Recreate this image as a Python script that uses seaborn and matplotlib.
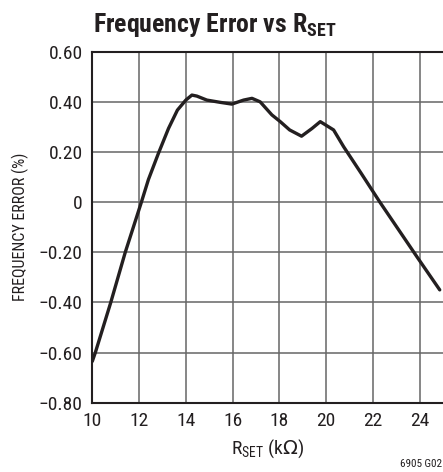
import numpy as np
import pandas as pd
import matplotlib
matplotlib.use("Agg")
import matplotlib.pyplot as plt
from matplotlib import font_manager
import seaborn as sns

# data
r_set = [10.0, 10.13, 10.79, 11.41, 12.1, 12.4, 12.83, 13.26, 13.64, 14.0,
         14.26, 14.47, 14.9, 15.47, 15.97, 16.47, 16.83, 17.18, 17.68, 18.04,
         18.44, 18.95, 19.4, 19.75, 20.32, 20.75, 21.5, 22.3, 23.1, 23.9, 24.86]
freq_err = [-0.635, -0.6, -0.4, -0.2, 0.0, 0.09, 0.195, 0.294, 0.367, 0.407,
            0.427, 0.423, 0.407, 0.398, 0.391, 0.407, 0.414, 0.40, 0.348, 0.321,
            0.288, 0.263, 0.294, 0.321, 0.288, 0.221, 0.115, 0.0, -0.11, -0.22, -0.35]

x_ticks = [10, 12, 14, 16, 18, 20, 22, 24]
y_ticks = [0.6, 0.4, 0.2, 0.0, -0.2, -0.4, -0.6, -0.8]
y_tick_labels = ["0.60", "0.40", "0.20", "0", "\u22120.20", "\u22120.40", "\u22120.60", "\u22120.80"]

df = pd.DataFrame({"rset": r_set, "err": freq_err})

# pick a narrow sans that is installed, preferring one that also has a bold face
candidates = ["Liberation Sans Narrow", "Roboto Condensed", "Archivo Narrow",
              "PT Sans Narrow", "IBM Plex Sans Condensed", "Fira Sans Condensed",
              "Asap Condensed", "Encode Sans Condensed", "Open Sans Condensed",
              "Barlow Semi Condensed", "Pragati Narrow"]


def weights(name):
    out = []
    for f in font_manager.fontManager.ttflist:
        if f.name == name:
            w = f.weight
            if isinstance(w, str):
                w = font_manager.weight_dict.get(w, 400)
            out.append(w)
    return out


narrow = None
narrow_bold = None
for cand in candidates:
    ws = weights(cand)
    if not ws:
        continue
    if narrow is None:
        narrow = cand
    if narrow_bold is None and any(w >= 600 for w in ws) and any(w < 600 for w in ws):
        narrow_bold = cand
if narrow_bold is not None:
    narrow = narrow_bold
if narrow is None:
    narrow = "Liberation Sans"
title_font = narrow_bold if narrow_bold else narrow

sns.set_theme(style="white")
plt.rcParams["font.family"] = [narrow, "DejaVu Sans"]
plt.rcParams["axes.unicode_minus"] = True
plt.rcParams["mathtext.fontset"] = "custom"
plt.rcParams["mathtext.rm"] = narrow
plt.rcParams["mathtext.bf"] = title_font + ":bold"
plt.rcParams["mathtext.sf"] = "DejaVu Sans"

ink = "#231f20"

fig = plt.figure(figsize=(4.43, 4.72), dpi=100)
ax = fig.add_axes([92.3 / 443, 69.3 / 472, (443 - 92.3) / 443, 351 / 472])

sns.lineplot(data=df, x="rset", y="err", ax=ax, color=ink, linewidth=2.4,
             estimator=None, sort=False, solid_joinstyle="round", solid_capstyle="round",
             zorder=5)

ax.set_xlim(10, 25)
ax.set_ylim(-0.8, 0.6)
ax.set_xticks(x_ticks)
ax.set_yticks(y_ticks)
ax.set_yticklabels(y_tick_labels)
ax.grid(True, color="#666666", linewidth=1.1)
ax.tick_params(length=0, labelsize=14, pad=7, colors=ink)

for side in ["left", "bottom", "top"]:
    ax.spines[side].set_color(ink)
    ax.spines[side].set_linewidth(1.5)
ax.spines["right"].set_visible(False)

ax.set_xlabel("R$_{\\mathrm{SET}}$ (k$\\mathsf{\u03a9}$)", fontsize=14, color=ink, labelpad=5)
ax.set_ylabel("FREQUENCY ERROR (%)", fontsize=11.5, color=ink)
ax.yaxis.set_label_coords(-0.18, 0.5)

fig.text(93 / 443, 1 - 32 / 472, "Frequency Error vs R$_{\\mathbf{SET}}$",
         fontsize=18.5, fontweight="bold", family=title_font,
         ha="left", va="baseline", color=ink)
fig.text(442 / 443, 1 - 469 / 472, "6905 G02", fontsize=8, ha="right", va="bottom",
         color=ink)

fig.savefig("out.png", dpi=100)
